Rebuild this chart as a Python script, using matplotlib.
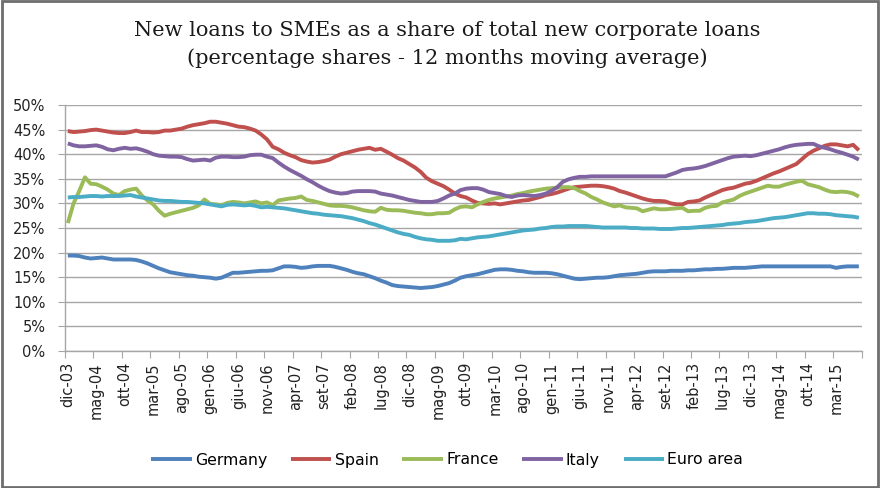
import matplotlib
matplotlib.use("Agg")
import matplotlib.pyplot as plt
import numpy as np
from matplotlib.patches import Rectangle

# ---------------- data (percent) ----------------
series_names = ["Germany", "Spain", "France", "Italy", "Euro area"]

germany = [
    19.4, 19.4, 19.3, 19.0, 18.8, 18.9, 19.0, 18.8, 18.6, 18.6, 18.6, 18.6, 18.5, 18.2, 17.8, 17.3, 16.8, 16.4, 16.0, 15.8,
    15.6, 15.4, 15.3, 15.1, 15.0, 14.9, 14.7, 14.9, 15.4, 15.9, 15.9, 16.0, 16.1, 16.2, 16.3,
    16.3, 16.4, 16.8, 17.2, 17.2, 17.1, 16.9, 17.0, 17.2, 17.3, 17.3, 17.3, 17.1, 16.8, 16.5, 16.1, 15.8, 15.6, 15.2, 14.8,
    14.3, 13.9, 13.4, 13.2, 13.1, 13.0, 12.9, 12.8, 12.9, 13.0, 13.2, 13.5, 13.8, 14.3, 14.9,
    15.2, 15.4, 15.6, 15.9, 16.2, 16.5, 16.6, 16.6, 16.5, 16.3, 16.2, 16.0, 15.9, 15.9, 15.9, 15.8, 15.6, 15.3, 15.0, 14.7,
    14.6, 14.7, 14.8, 14.9, 14.9, 15.0, 15.2, 15.4, 15.5, 15.6, 15.7, 15.9, 16.1, 16.2, 16.2,
    16.2, 16.3, 16.3, 16.3, 16.4, 16.4, 16.5, 16.6, 16.6, 16.7, 16.7, 16.8, 16.9, 16.9, 16.9,
    17.0, 17.1, 17.2, 17.2, 17.2, 17.2, 17.2, 17.2, 17.2, 17.2, 17.2, 17.2, 17.2, 17.2, 17.2, 16.9, 17.1, 17.2, 17.2, 17.2,
]

spain = [
    44.7, 44.5, 44.6, 44.7, 44.9, 45.0, 44.8, 44.6, 44.4, 44.3, 44.3, 44.5, 44.8, 44.5, 44.5, 44.4, 44.5, 44.8, 44.8, 45.0,
    45.2, 45.6, 45.9, 46.1, 46.3, 46.6, 46.6, 46.4, 46.2, 45.9, 45.6, 45.5, 45.2, 44.8, 44.0,
    43.0, 41.5, 41.0, 40.3, 39.8, 39.4, 38.8, 38.5, 38.3, 38.4, 38.6, 38.9, 39.5, 40.0, 40.3, 40.6, 40.9, 41.1, 41.3, 40.9,
    41.1, 40.5, 39.9, 39.2, 38.7, 38.0, 37.3, 36.4, 35.2, 34.5, 34.0, 33.5, 32.8, 32.0, 31.5,
    31.2, 30.6, 30.1, 30.0, 29.9, 30.0, 29.8, 30.0, 30.2, 30.4, 30.6, 30.7, 31.0, 31.3, 31.7, 31.9, 32.2, 32.6, 33.0, 33.3,
    33.4, 33.5, 33.6, 33.6, 33.5, 33.3, 33.0, 32.5, 32.2, 31.8, 31.4, 31.0, 30.7, 30.5, 30.5,
    30.4, 30.0, 29.8, 29.8, 30.3, 30.4, 30.6, 31.2, 31.7, 32.2, 32.7, 33.0, 33.2, 33.6, 34.0, 34.2, 34.6, 35.1, 35.6, 36.1,
    36.5, 37.0, 37.5, 38.0, 39.0, 40.0, 40.7, 41.2, 41.7, 42.0, 42.0, 41.8, 41.6, 41.9, 40.8,
]

france = [
    26.0, 30.0, 32.5, 35.3, 34.0, 33.9, 33.4, 32.8, 32.0, 31.7, 32.5, 32.8, 33.0, 31.6, 30.6, 29.8, 28.5, 27.5, 27.9, 28.2,
    28.5, 28.8, 29.1, 29.6, 30.8, 29.9, 29.8, 29.6, 30.1, 30.3, 30.2, 30.0, 30.2, 30.4, 30.0,
    30.2, 29.6, 30.6, 30.8, 31.0, 31.1, 31.4, 30.7, 30.5, 30.2, 29.9, 29.6, 29.5, 29.5, 29.4, 29.2, 28.9, 28.6, 28.4, 28.3,
    29.1, 28.7, 28.6, 28.6, 28.5, 28.3, 28.1, 28.0, 27.8, 27.8, 28.0, 28.0, 28.1, 28.8, 29.3,
    29.4, 29.2, 29.8, 30.3, 30.7, 31.0, 31.2, 31.4, 31.6, 31.9, 32.1, 32.4, 32.6, 32.8, 33.0, 33.1, 33.2, 33.3, 33.3, 33.1,
    32.5, 32.0, 31.3, 30.8, 30.2, 29.8, 29.4, 29.6, 29.2, 29.1, 29.0, 28.4, 28.7, 29.0, 28.8,
    28.8, 28.9, 29.0, 29.1, 28.4, 28.5, 28.5, 29.1, 29.4, 29.5, 30.2, 30.5, 30.8, 31.5, 32.0, 32.4, 32.8, 33.2, 33.6, 33.4,
    33.4, 33.8, 34.1, 34.4, 34.6, 33.9, 33.6, 33.3, 32.8, 32.4, 32.3, 32.4, 32.3, 32.0, 31.4,
]

italy = [
    42.2, 41.8, 41.6, 41.6, 41.7, 41.8, 41.5, 41.0, 40.8, 41.1, 41.3, 41.1, 41.2, 40.9, 40.5, 40.0, 39.7, 39.6, 39.5, 39.5,
    39.4, 39.0, 38.7, 38.8, 38.9, 38.7, 39.3, 39.5, 39.5, 39.4, 39.4, 39.5, 39.8, 39.9, 39.9,
    39.5, 39.2, 38.3, 37.5, 36.8, 36.2, 35.6, 34.9, 34.3, 33.6, 33.0, 32.5, 32.2, 32.0, 32.1, 32.4, 32.5, 32.5, 32.5, 32.4,
    32.0, 31.8, 31.6, 31.3, 31.0, 30.7, 30.5, 30.3, 30.3, 30.3, 30.5, 31.0, 31.6, 32.0, 32.7,
    33.0, 33.1, 33.1, 32.8, 32.3, 32.1, 31.9, 31.5, 31.3, 31.6, 31.7, 31.6, 31.5, 31.7, 32.0, 32.6, 33.3, 34.4, 34.9, 35.2,
    35.4, 35.4, 35.5, 35.5, 35.5, 35.5, 35.5, 35.5, 35.5, 35.5, 35.5, 35.5, 35.5, 35.5, 35.5,
    35.5, 35.9, 36.3, 36.8, 37.0, 37.1, 37.3, 37.6, 38.0, 38.4, 38.8, 39.2, 39.5, 39.6, 39.7, 39.6, 39.8, 40.1, 40.4, 40.7,
    41.0, 41.4, 41.7, 41.9, 42.0, 42.1, 42.1, 41.6, 41.3, 41.0, 40.6, 40.3, 39.9, 39.5, 38.9,
]

euro_area = [
    31.2, 31.3, 31.3, 31.4, 31.5, 31.5, 31.4, 31.5, 31.5, 31.5, 31.6, 31.7, 31.4, 31.2, 31.0, 30.8, 30.6, 30.5, 30.5, 30.4,
    30.3, 30.3, 30.2, 30.1, 30.0, 29.8, 29.6, 29.4, 29.7, 29.8, 29.7, 29.6, 29.7, 29.5, 29.2,
    29.3, 29.2, 29.1, 29.0, 28.8, 28.6, 28.4, 28.2, 28.0, 27.9, 27.7, 27.6, 27.5, 27.4, 27.2, 27.0, 26.7, 26.4, 26.0, 25.7,
    25.3, 24.9, 24.5, 24.1, 23.8, 23.6, 23.2, 22.9, 22.7, 22.6, 22.4, 22.4, 22.4, 22.5, 22.8,
    22.7, 22.9, 23.1, 23.2, 23.3, 23.5, 23.7, 23.9, 24.1, 24.3, 24.5, 24.6, 24.7, 24.9, 25.0, 25.2, 25.3, 25.3, 25.4, 25.4,
    25.4, 25.4, 25.3, 25.2, 25.1, 25.1, 25.1, 25.1, 25.1, 25.0, 25.0, 24.9, 24.9, 24.9, 24.8,
    24.8, 24.8, 24.9, 25.0, 25.0, 25.1, 25.2, 25.3, 25.4, 25.5, 25.6, 25.8, 25.9, 26.0, 26.2, 26.3, 26.4, 26.6, 26.8, 27.0,
    27.1, 27.2, 27.4, 27.6, 27.8, 28.0, 28.0, 27.9, 27.9, 27.8, 27.6, 27.5, 27.4, 27.3, 27.1,
]

tick_labels = ["dic-03", "mag-04", "ott-04", "mar-05", "ago-05", "gen-06", "giu-06", "nov-06",
               "apr-07", "set-07", "feb-08", "lug-08", "dic-08", "mag-09", "ott-09", "mar-10",
               "ago-10", "gen-11", "giu-11", "nov-11", "apr-12", "set-12", "feb-13", "lug-13",
               "dic-13", "mag-14", "ott-14", "mar-15"]

y_ticks = [0, 5, 10, 15, 20, 25, 30, 35, 40, 45, 50]

colors = ["#4F81BD", "#C0504D", "#9BBB59", "#8064A2", "#4BACC6"]

title_line1 = "New loans to SMEs as a share of total new corporate loans"
title_line2 = "(percentage shares - 12 months moving average)"

# ---------------- figure ----------------
W, H = 880, 488
fig = plt.figure(figsize=(W / 100, H / 100), dpi=100)
fig.patch.set_facecolor("white")

x0, x1, ytop, ybot = 65, 861.7, 105, 351
ax = fig.add_axes([x0 / W, 1 - ybot / H, (x1 - x0) / W, (ybot - ytop) / H])

n = len(germany)
xs = np.arange(n) + 0.5
all_series = [germany, spain, france, italy, euro_area]
for name, vals, col in zip(series_names, all_series, colors):
    ax.plot(xs, vals, color=col, lw=2.8, label=name, solid_joinstyle="round",
            solid_capstyle="butt")

ax.set_xlim(0, n)
ax.set_ylim(0, 50)

grid_col = "#a6a6a6"
ax.set_yticks(y_ticks)
ax.set_yticklabels([f"{v}%" for v in y_ticks])
ax.yaxis.grid(True, color=grid_col, lw=1.0)
ax.set_axisbelow(True)

ax.set_xticks(np.arange(0, n + 1, 5))
ax.set_xticklabels([])
ax.set_xticks(np.arange(0, 5 * len(tick_labels), 5) + 0.5, minor=True)
ax.set_xticklabels(tick_labels, minor=True, rotation=90, va="top", ha="center")

for s in ["top", "right"]:
    ax.spines[s].set_visible(False)
for s in ["left", "bottom"]:
    ax.spines[s].set_color(grid_col)
    ax.spines[s].set_linewidth(1.0)

ax.tick_params(axis="y", which="major", length=5, color=grid_col, labelsize=10.5,
               labelcolor="#222222", pad=9)
ax.tick_params(axis="x", which="major", length=5, color=grid_col)
ax.tick_params(axis="x", which="minor", length=0, labelsize=10.5, labelcolor="#222222", pad=8)

fig.text(447 / W, 1 - 30 / H, title_line1, ha="center", va="center", family="DejaVu Serif",
         fontsize=15, color="#1a1a1a")
fig.text(447 / W, 1 - 58 / H, title_line2, ha="center", va="center", family="DejaVu Serif",
         fontsize=15, color="#1a1a1a")

fig.legend(loc="center", bbox_to_anchor=(447 / W, 1 - 460 / H), ncol=5, frameon=False,
           fontsize=11.3, handlelength=2.6, handletextpad=0.2, columnspacing=1.5)

fig.patches.append(Rectangle((0.002, 0.003), 0.996, 0.994, transform=fig.transFigure,
                             fill=False, edgecolor="#6e6e6e", lw=2.0))

fig.savefig("out.png", dpi=100, facecolor="white")
